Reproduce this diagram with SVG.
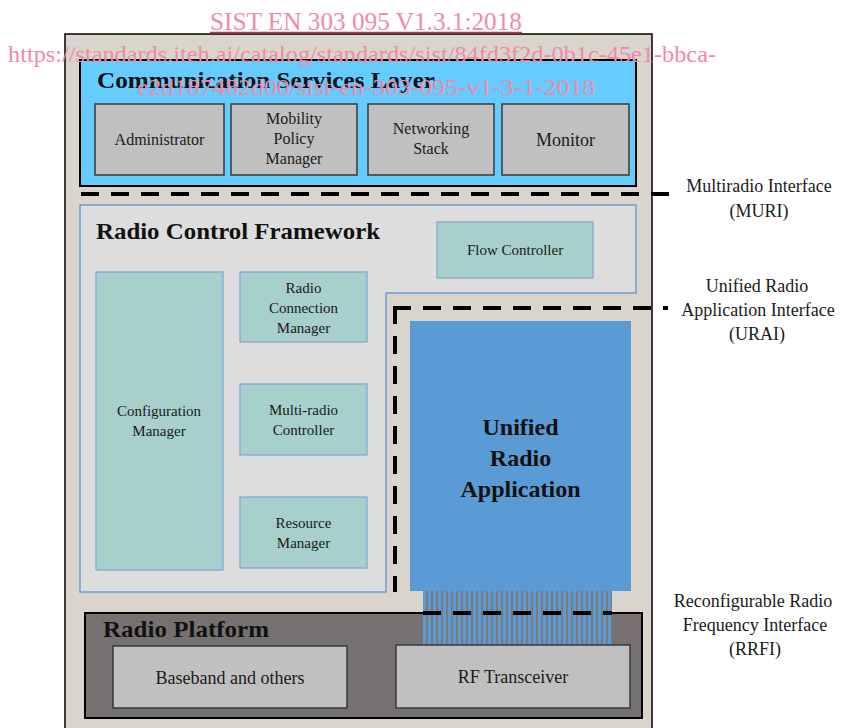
<svg xmlns="http://www.w3.org/2000/svg" width="845" height="728" viewBox="0 0 845 728">
<style>
text{font-family:"Liberation Serif","Times New Roman",serif;fill:#1a1a1a}
.t{font-weight:bold;font-size:23px;fill:#111}
.l{font-size:15px;text-anchor:middle}
.m{font-size:16px;text-anchor:middle}
.b{font-size:18px;text-anchor:middle}
.gray{fill:#c0c0c0;stroke:#3a3a3a;stroke-width:1.5}
.teal{fill:#a7cfcc;stroke:#7aa6d6;stroke-width:1.2}
.dash{fill:none;stroke:#000;stroke-width:4;stroke-dasharray:18 12}
.wm{fill:#f08aa8;font-size:23px}
</style>
<defs>
<pattern id="stripes" x="423" y="0" width="5" height="10" patternUnits="userSpaceOnUse">
<rect width="5" height="10" fill="#5b9bd5"/>
<rect x="3" width="2" height="10" fill="#7a7a7a"/>
</pattern>
</defs>
<rect width="845" height="728" fill="#fff"/>
<g id="frame"><rect x="65" y="34" width="587" height="710" fill="#d9d5cc" stroke="#000" stroke-width="1.5"/></g>
<g id="csl">
<rect x="80" y="60" width="556" height="126" fill="#66ccff" stroke="#000" stroke-width="2"/>
<text class="t" x="97" y="88" textLength="338" lengthAdjust="spacingAndGlyphs">Communication Services Layer</text>
</g>
<g id="administrator"><rect class="gray" x="95" y="104" width="129" height="71"/><text class="m" x="159.5" y="145">Administrator</text></g>
<g id="mobility"><rect class="gray" x="231" y="104" width="126" height="71"/><text class="m" x="294" y="124">Mobility</text><text class="m" x="294" y="144">Policy</text><text class="m" x="294" y="164">Manager</text></g>
<g id="networking"><rect class="gray" x="368" y="104" width="126" height="71"/><text class="m" x="431" y="134">Networking</text><text class="m" x="431" y="154">Stack</text></g>
<g id="monitor"><rect class="gray" x="502" y="104" width="127" height="71"/><text class="b" x="565.5" y="146">Monitor</text></g>
<g id="rcf">
<path d="M80 205 H636 V293 H386 V592 H80 Z" fill="#dddddd" stroke="#6d9ccf" stroke-width="1.5"/>
<text class="t" x="96" y="239" textLength="284" lengthAdjust="spacingAndGlyphs">Radio Control Framework</text>
</g>
<g id="flow-controller"><rect class="teal" x="437" y="222" width="156" height="56"/><text class="l" x="515" y="255">Flow Controller</text></g>
<g id="configuration-manager"><rect class="teal" x="96" y="272" width="127" height="298"/><text class="l" x="159" y="416">Configuration</text><text class="l" x="159" y="436">Manager</text></g>
<g id="radio-connection-manager"><rect class="teal" x="240" y="272" width="127" height="70"/><text class="l" x="303.5" y="293">Radio</text><text class="l" x="303.5" y="313">Connection</text><text class="l" x="303.5" y="333">Manager</text></g>
<g id="multi-radio-controller"><rect class="teal" x="240" y="384" width="127" height="71"/><text class="l" x="303.5" y="415">Multi-radio</text><text class="l" x="303.5" y="435">Controller</text></g>
<g id="resource-manager"><rect class="teal" x="240" y="497" width="127" height="71"/><text class="l" x="303.5" y="528">Resource</text><text class="l" x="303.5" y="548">Manager</text></g>
<g id="radio-platform">
<rect x="85" y="613" width="557" height="105" fill="#767171" stroke="#000" stroke-width="2"/>
<text class="t" x="103" y="637" textLength="166" lengthAdjust="spacingAndGlyphs">Radio Platform</text>
</g>
<g id="unified-radio-application">
<rect x="410" y="321" width="221" height="270" fill="#5b9bd5"/>
<text class="t" x="520.5" y="435" text-anchor="middle" style="font-size:24px">Unified</text>
<text class="t" x="520.5" y="466" text-anchor="middle" style="font-size:24px">Radio</text>
<text class="t" x="520.5" y="497" text-anchor="middle" style="font-size:24px">Application</text>
</g>
<g id="connectors">
<rect x="423" y="591" width="189" height="54" fill="url(#stripes)"/>
<path class="dash" d="M81 194 H670"/>
<path class="dash" d="M393 308 H668"/>
<path class="dash" d="M395 306 V592"/>
<path class="dash" d="M423 613 H612"/>
</g>
<g id="baseband"><rect class="gray" x="113" y="646" width="234" height="62"/><text class="b" x="230" y="684">Baseband and others</text></g>
<g id="rf-transceiver"><rect class="gray" x="396" y="645" width="234" height="63"/><text class="b" x="513" y="683">RF Transceiver</text></g>
<g id="labels">
<text class="b" x="759" y="192">Multiradio Interface</text>
<text class="b" x="759" y="217">(MURI)</text>
<text class="b" x="757" y="292">Unified Radio</text>
<text class="b" x="758" y="316">Application Interface</text>
<text class="b" x="757" y="340">(URAI)</text>
<text class="b" x="753" y="607">Reconfigurable Radio</text>
<text class="b" x="755" y="631">Frequency Interface</text>
<text class="b" x="755" y="655">(RRFI)</text>
</g>
<g id="watermark">
<text class="wm" x="210" y="30" style="font-size:26px" textLength="312" lengthAdjust="spacingAndGlyphs">SIST EN 303 095 V1.3.1:2018</text>
<line x1="210" y1="32.5" x2="522" y2="32.5" stroke="#b8325e" stroke-width="1.5"/>
<text class="wm" x="8" y="62" textLength="708" lengthAdjust="spacingAndGlyphs">https://standards.iteh.ai/catalog/standards/sist/84fd3f2d-0b1c-45e1-bbca-</text>
<text class="wm" x="137" y="95" textLength="458" lengthAdjust="spacingAndGlyphs">e2d187482d00/sist-en-303-095-v1-3-1-2018</text>
</g>
</svg>
